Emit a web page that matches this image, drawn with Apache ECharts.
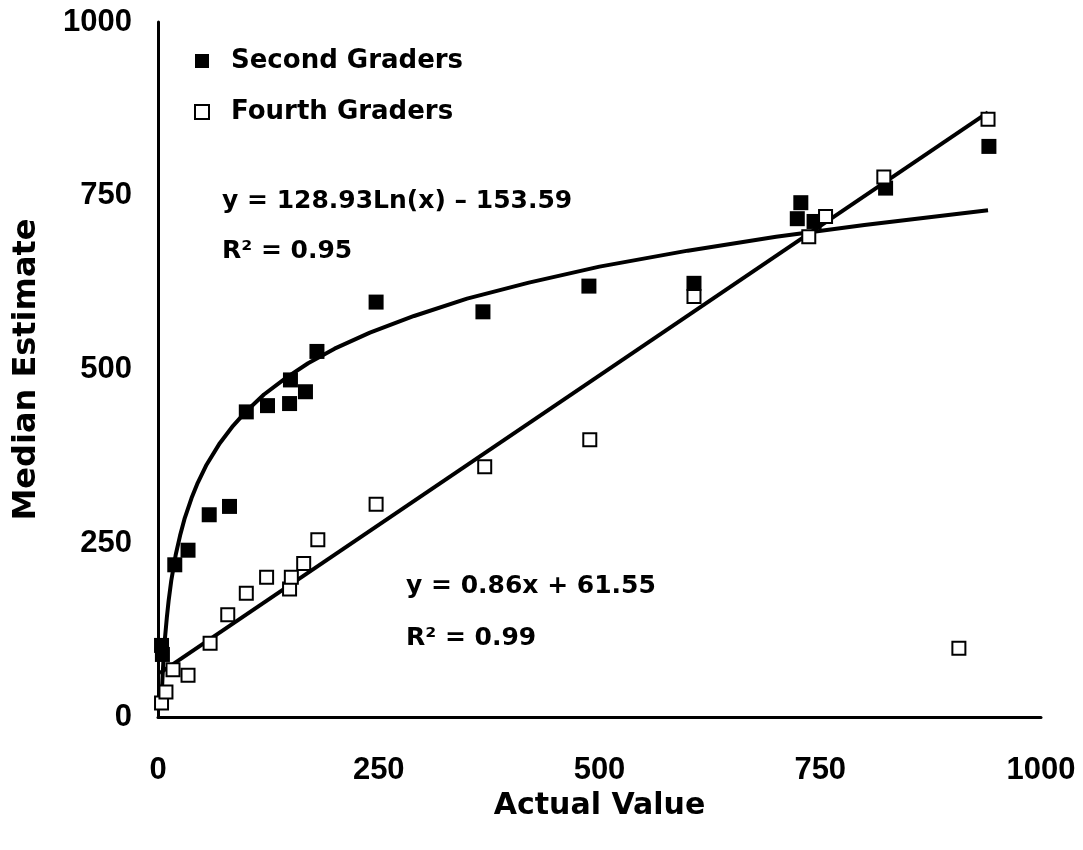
<!DOCTYPE html>
<html>
<head>
<meta charset="utf-8">
<script src="https://cdn.jsdelivr.net/npm/echarts@6/dist/echarts.min.js"></script>
<style>
  html, body { margin: 0; padding: 0; background: #ffffff; }
  #chart { width: 1083px; height: 850px; }
</style>
</head>
<body>
<div id="chart"></div>
<script>
// Data
const secondGraders = [
  [4, 103], [5, 90], [19, 219], [34, 240], [58, 291], [81, 303],
  [100, 439], [124, 448], [149, 451], [150, 485], [167, 468], [180, 526],
  [247, 597], [368, 583], [488, 620], [607, 624],
  [724, 717], [728, 740], [743, 713], [824, 761], [941, 821]
]
const fourthGraders = [
  [4, 20], [9, 36], [17, 68], [34, 60], [59, 106], [79, 147],
  [100, 178], [123, 201], [149, 184], [151, 201], [165, 221], [181, 255],
  [247, 306], [370, 360], [489, 399], [607, 605],
  [737, 691], [756, 720], [822, 777], [940, 860], [907, 99]
]
// trend lines
const logTrend = [
  [4, 25], [5, 54], [6, 78], [7, 97], [8, 115], [10, 143], [12, 167],
  [15, 196], [20, 233], [25, 261], [30, 285], [38, 315], [45, 337],
  [55, 363], [70, 394], [85, 419], [100, 440], [120, 464], [145, 488],
  [170, 509], [200, 530], [240, 553], [290, 577], [350, 602], [420, 625],
  [500, 648], [600, 671], [700, 691], [800, 708], [940, 729]
]
const linearTrend = [[2, 63], [940, 870]]
const axisTicks = [0, 250, 500, 750, 1000]

const boldWide = 'bold 25px "DejaVu Sans", sans-serif'

const chart = echarts.init(document.getElementById('chart'))

const axisCommon = {
  type: 'value',
  min: axisTicks[0],
  max: axisTicks[axisTicks.length - 1],
  interval: axisTicks[1] - axisTicks[0],
  nameLocation: 'middle',
  nameTextStyle: { color: '#000', fontWeight: 'bold', fontFamily: 'DejaVu Sans' },
  axisLine: { show: true, onZero: false, lineStyle: { color: '#000', width: 3 } },
  axisTick: { show: false },
  splitLine: { show: false },
  axisLabel: {
    color: '#000',
    fontWeight: 'bold',
    fontSize: 31,
    fontFamily: '"Liberation Sans Narrow", "Arial Narrow", sans-serif',
    formatter: (v) => String(v)
  }
}

const option = {
  backgroundColor: '#ffffff',
  animation: false,
  grid: { left: 158, right: 42, top: 22, bottom: 133 },
  legend: {
    data: ['Second Graders', 'Fourth Graders'],
    orient: 'vertical',
    left: 189,
    top: 43,
    itemWidth: 14,
    itemHeight: 14,
    itemGap: 25,
    icon: 'rect',
    textStyle: {
      color: '#000',
      fontWeight: 'bold',
      fontSize: 26,
      fontFamily: 'DejaVu Sans',
      padding: [0, 0, 0, 17]
    }
  },
  xAxis: {
    ...axisCommon,
    name: 'Actual Value',
    nameGap: 70,
    nameTextStyle: { ...axisCommon.nameTextStyle, fontSize: 30 },
    axisLabel: { ...axisCommon.axisLabel, margin: 38 }
  },
  yAxis: {
    ...axisCommon,
    name: 'Median Estimate',
    nameGap: 115,
    nameTextStyle: { ...axisCommon.nameTextStyle, fontSize: 32 },
    axisLabel: { ...axisCommon.axisLabel, margin: 26 }
  },
  graphic: [
    { type: 'text', x: 222, y: 201, style: { text: 'y = 128.93Ln(x) \u2013 153.59', font: boldWide, fill: '#000', verticalAlign: 'middle' } },
    { type: 'text', x: 222, y: 251, style: { text: 'R\u00b2 = 0.95', font: boldWide, fill: '#000', verticalAlign: 'middle' } },
    { type: 'text', x: 406, y: 586, style: { text: 'y = 0.86x + 61.55', font: boldWide, fill: '#000', verticalAlign: 'middle' } },
    { type: 'text', x: 406, y: 638, style: { text: 'R\u00b2 = 0.99', font: boldWide, fill: '#000', verticalAlign: 'middle' } }
  ],
  series: [
    {
      name: 'log fit',
      type: 'line',
      data: logTrend,
      smooth: false,
      showSymbol: false,
      lineStyle: { color: '#000', width: 4, join: 'round' },
      z: 1
    },
    {
      name: 'linear fit',
      type: 'line',
      data: linearTrend,
      showSymbol: false,
      lineStyle: { color: '#000', width: 4 },
      z: 1
    },
    {
      name: 'Second Graders',
      type: 'scatter',
      data: secondGraders,
      symbol: 'rect',
      symbolSize: 15,
      itemStyle: { color: '#000', opacity: 1 },
      z: 3
    },
    {
      name: 'Fourth Graders',
      type: 'scatter',
      data: fourthGraders,
      symbol: 'rect',
      symbolSize: 13,
      itemStyle: { color: '#fff', borderColor: '#000', borderWidth: 2, opacity: 1 },
      z: 4
    }
  ]
}

chart.setOption(option)
</script>
</body>
</html>
